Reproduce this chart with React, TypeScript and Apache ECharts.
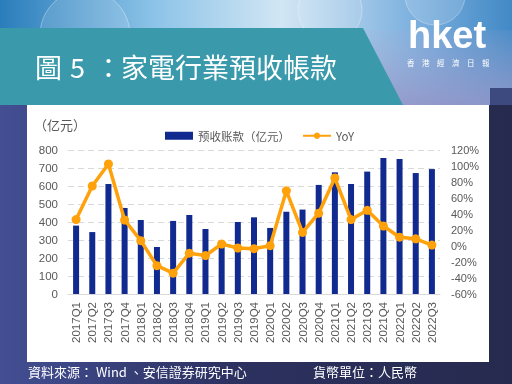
import React, { useEffect, useRef } from "react";
import * as echarts from "echarts";

const categories = [
  "2017Q1", "2017Q2", "2017Q3", "2017Q4",
  "2018Q1", "2018Q2", "2018Q3", "2018Q4",
  "2019Q1", "2019Q2", "2019Q3", "2019Q4",
  "2020Q1", "2020Q2", "2020Q3", "2020Q4",
  "2021Q1", "2021Q2", "2021Q3", "2021Q4",
  "2022Q1", "2022Q2", "2022Q3",
];
const advanceReceipts = [
  380, 344, 611, 478, 411, 261, 406, 439, 361, 283, 400, 426,
  367, 457, 469, 606, 676, 611, 680, 756, 750, 672, 694,
];
const yoy = [
  33, 75, 102.5, 32.5, 6.7, -24.6, -34, -9, -12, 2.5, -2.5, -3.3,
  0.4, 69, 17, 41, 85, 33, 44.6, 25, 11, 9, 1.2,
];
const leftTicks = { min: 0, max: 800, interval: 100 };
const rightTicks = { min: -60, max: 120, interval: 20 };

const titleParts = ["圖", "5", "："];
const title2 = "家電行業預收帳款";
const sourceText = "資料來源： Wind 、安信證券研究中心";
const unitText = "貨幣單位：人民幣";
const logoSub = "香　港　經　濟　日　報";

const barName = "预收账款（亿元）";
const lineName = "YoY";

export default function App() {
  const ref = useRef<HTMLDivElement>(null);
  useEffect(() => {
    const chart = echarts.init(ref.current!, null, { renderer: "svg" });
    const labelColor = "#595959";
    const font = "'Liberation Sans', Arial, sans-serif";
    const cjk = "'Noto Sans CJK TC', 'Noto Sans CJK SC', sans-serif";
    const titleX = [35, 70, 95];
    const graphics: any[] = [
      {
        type: "rect", z: -20, silent: true,
        shape: { x: 0, y: 0, width: 512, height: 384 },
        style: {
          fill: new echarts.graphic.LinearGradient(0, 0, 1, 0, [
            { offset: 0, color: "#434f93" },
            { offset: 0.45, color: "#2c3160" },
            { offset: 1, color: "#262a4e" },
          ]),
        },
      },
      {
        type: "rect", z: -19, silent: true,
        shape: { x: 0, y: 0, width: 512, height: 105 },
        style: {
          fill: new echarts.graphic.LinearGradient(0, 0, 1, 0, [
            { offset: 0, color: "#2a7dbb" },
            { offset: 0.3, color: "#8cc3e8" },
            { offset: 0.55, color: "#d2e6f4" },
            { offset: 0.8, color: "#7fb2df" },
            { offset: 1, color: "#4289c6" },
          ]),
        },
      },
      {
        type: "rect", z: -18, silent: true,
        shape: { x: 0, y: 30, width: 512, height: 75 },
        style: {
          fill: new echarts.graphic.LinearGradient(0, 0, 0, 1, [
            { offset: 0, color: "rgba(170,170,210,0.1)" },
            { offset: 1, color: "rgba(150,150,200,0.85)" },
          ]),
        },
      },
      {
        type: "rect", z: -17, silent: true,
        shape: { x: 490, y: 88, width: 22, height: 17 },
        style: { fill: "#3d4a80" },
      },
      {
        type: "circle", z: -17, silent: true,
        shape: { cx: 85, cy: 35, r: 45 },
        style: { fill: "rgba(255,255,255,0.12)", stroke: "rgba(255,255,255,0.35)", lineWidth: 1 },
      },
      {
        type: "circle", z: -17, silent: true,
        shape: { cx: 330, cy: 10, r: 32 },
        style: { fill: "rgba(255,255,255,0.12)", stroke: "rgba(255,255,255,0.3)", lineWidth: 1 },
      },
      {
        type: "circle", z: -17, silent: true,
        shape: { cx: 435, cy: -5, r: 30 },
        style: { fill: "rgba(255,255,255,0.15)", stroke: "rgba(255,255,255,0.3)", lineWidth: 1 },
      },
      {
        type: "polygon", z: -16, silent: true,
        shape: { points: [[0, 28], [363, 28], [403, 105], [0, 105]] },
        style: { fill: "#3a9aab" },
      },
      {
        type: "rect", z: -15, silent: true,
        shape: { x: 27, y: 105, width: 462, height: 257 },
        style: { fill: "#ffffff" },
      },
      ...titleParts.map((t, i) => ({
        type: "text", z: 10, left: titleX[i], top: 53,
        style: { text: t, fill: "#ffffff", font: `27px ${cjk}` },
      })),
      {
        type: "text", z: 10, left: 121, top: 53,
        style: { text: title2, fill: "#ffffff", font: `27px ${cjk}` },
      },
      {
        type: "text", z: 10, left: 408, top: 16,
        style: { text: "hket", fill: "#ffffff", font: `bold 38px 'Liberation Sans', Arial, sans-serif`, lineHeight: 38 },
      },
      {
        type: "text", z: 10, left: 407, top: 58,
        style: { text: logoSub, fill: "#ffffff", font: `7.5px ${cjk}`, lineHeight: 8 },
      },
      {
        type: "text", z: 10, left: 34, top: 118,
        style: { text: "（亿元）", fill: labelColor, font: `13px ${cjk}` },
      },
      {
        type: "text", z: 10, left: 28, top: 365,
        style: { text: sourceText, fill: "#ffffff", font: `13px ${cjk}` },
      },
      {
        type: "text", z: 10, left: 313, top: 365,
        style: { text: unitText, fill: "#ffffff", font: `13px ${cjk}` },
      },
    ];

    chart.setOption({
      animation: false,
      graphic: { elements: graphics },
      legend: {
        left: 160,
        top: 125,
        itemGap: 12,
        itemWidth: 28,
        itemHeight: 8,
        textStyle: { color: labelColor, fontSize: 11.5, fontFamily: cjk },
        data: [
          { name: barName, icon: "rect" },
          { name: lineName },
        ],
      },
      grid: { left: 68, right: 72, top: 150, bottom: 90 },
      xAxis: {
        type: "category",
        data: categories,
        axisLine: { lineStyle: { color: "#d9d9d9", width: 1 } },
        axisTick: { show: false },
        axisLabel: {
          rotate: 90,
          margin: 8,
          color: labelColor,
          fontSize: 11.5,
          fontFamily: font,
          interval: 0,
        },
      },
      yAxis: [
        {
          type: "value",
          ...leftTicks,
          axisLine: { show: false },
          axisTick: { show: false },
          axisLabel: { color: labelColor, fontSize: 11.5, fontFamily: font, margin: 10 },
          splitLine: { lineStyle: { color: "#d9d9d9", type: [6, 4], width: 1 } },
        },
        {
          type: "value",
          ...rightTicks,
          axisLine: { show: false },
          axisTick: { show: false },
          splitLine: { show: false },
          axisLabel: {
            color: labelColor, fontSize: 11, fontFamily: font, margin: 11,
            formatter: (v: number) => `${v}%`,
          },
        },
      ],
      series: [
        {
          name: barName,
          type: "bar",
          data: advanceReceipts,
          barWidth: 6,
          itemStyle: { color: "#112a8f" },
        },
        {
          name: lineName,
          type: "line",
          yAxisIndex: 1,
          data: yoy,
          symbol: "circle",
          symbolSize: 9,
          lineStyle: { color: "#ffa10a", width: 3.5 },
          itemStyle: { color: "#ffa10a" },
        },
      ],
    });
    return () => chart.dispose();
  }, []);
  return (
    <div
      ref={ref}
      style={{ position: "fixed", left: 0, top: 0, width: 512, height: 384 }}
    />
  );
}
